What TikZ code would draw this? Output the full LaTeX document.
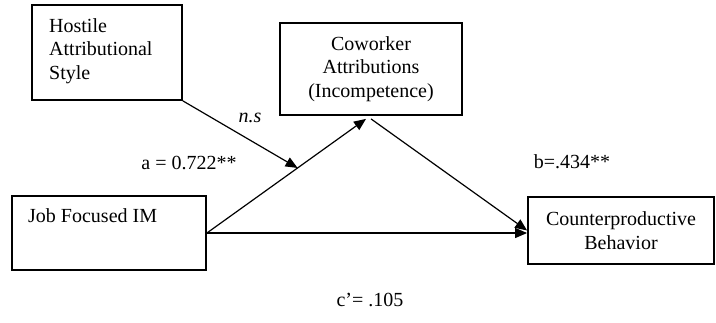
\documentclass[tikz,border=0pt]{standalone}
\usepackage{fontspec}
\setmainfont{Liberation Serif}
\usetikzlibrary{arrows.meta,calc}
\begin{document}
\begin{tikzpicture}[x=1pt,y=-1pt,
  box/.style={draw, line width=1.8pt, inner sep=0pt, font=\fontsize{20}{23.5}\selectfont},
  path/.style={line width=1.2pt, -{Triangle[length=12pt,width=10pt]}},
  lbl/.style={inner sep=0pt, font=\fontsize{20}{23.5}\selectfont}]
  \useasboundingbox (0,0) rectangle (716,322);
  % variables
  \node[box, minimum width=150pt, minimum height=95pt] (hostile) at (107,52.5) {};
  \node[lbl, align=left, anchor=west] (hostileText) at (49,51) {Hostile\\Attributional\\Style};
  \node[box, minimum width=182pt, minimum height=92pt, align=center]
    (cw) at (371,69) {Coworker\\Attributions\\(Incompetence)};
  \node[box, minimum width=194pt, minimum height=74pt] (job) at (109,233) {};
  \node[lbl, anchor=west] (jobText) at (28,216) {Job Focused IM};
  \node[box, minimum width=186pt, minimum height=67pt, align=center]
    (cpb) at (621,230.5) {Counterproductive\\Behavior};
  % path end points
  \coordinate (aTip) at ($(cw.south)+(-5,3)$);
  \coordinate (bStart) at ($(cw.south)+(0,3)$);
  \coordinate (mod) at ($(job.east)!0.57!(aTip)$);
  % paths
  \draw[path] (job.east) -- (aTip);
  \draw[path] (hostile.south east) -- (mod);
  \draw[path] (bStart) -- (cpb.west);
  \draw[path] (job.east) -- (job.east -| cpb.west);
  % coefficients
  \node[lbl, font=\fontsize{20}{23.5}\selectfont\itshape] (ns) at (250,118) {n.s};
  \node[lbl] (a) at (189,163) {a = 0.722**};
  \node[lbl] (b) at (572,162) {b=.434**};
  \node[lbl] (c) at (370,300) {c’= .105};
\end{tikzpicture}
\end{document}
